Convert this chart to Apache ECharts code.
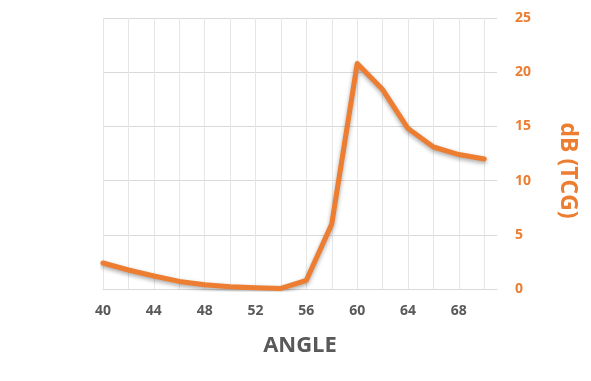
<!DOCTYPE html>
<html>
<head>
<meta charset="utf-8">
<script src="https://cdn.jsdelivr.net/npm/echarts@6/dist/echarts.min.js"></script>
<style>
html,body{margin:0;padding:0;background:#fff;}
#c{width:591px;height:381px;}
</style>
</head>
<body>
<div id="c"></div>
<script>
var angles = [40, 42, 44, 46, 48, 50, 52, 54, 56, 58, 60, 62, 64, 66, 68, 70];
var tcg = [2.4, 1.75, 1.2, 0.7, 0.4, 0.2, 0.12, 0.05, 0.8, 6.0, 20.8, 18.4, 14.8, 13.1, 12.4, 12.0];
var xGridValues = [40, 42, 44, 46, 48, 50, 52, 54, 56, 58, 60, 62, 64, 66, 68, 70];
var xLabelValues = [40, 44, 48, 52, 56, 60, 64, 68];
var xTitle = 'ANGLE';
var yTitle = 'dB (TCG)';

var orange = '#ED7D31';
var grey = '#595959';
var font = '"Open Sans", sans-serif';

var chart = echarts.init(document.getElementById('c'));
chart.setOption({
  animation: false,
  grid: {left: 103, right: 94, top: 18, bottom: 92},
  xAxis: {
    type: 'value', min: 40, max: 71,
    name: xTitle, nameLocation: 'middle', nameGap: 46,
    nameTextStyle: {color: grey, fontSize: 22, fontWeight: 'bold', fontFamily: font},
    axisLine: {show: true, onZero: false, lineStyle: {color: '#D9D9D9', width: 1}},
    axisTick: {show: false, customValues: xGridValues},
    axisLabel: {customValues: xLabelValues, color: grey, fontSize: 14, fontWeight: 'bold', fontFamily: font, margin: 15},
    splitLine: {show: true, lineStyle: {color: '#E6E6E6', width: 1}}
  },
  yAxis: {
    type: 'value', position: 'right', min: 0, max: 25, interval: 5,
    name: yTitle, nameLocation: 'middle', nameGap: 59, nameRotate: -90,
    nameTextStyle: {color: orange, fontSize: 23, fontWeight: 'bold', fontFamily: font, padding: [0, 0, 0, 34]},
    axisLine: {show: false}, axisTick: {show: false},
    axisLabel: {color: orange, fontSize: 14, fontWeight: 'bold', fontFamily: font, margin: 18, align: 'left'},
    splitLine: {show: true, lineStyle: {color: '#D9D9D9', width: 1}}
  },
  series: [{
    type: 'line',
    data: angles.map(function (a, i) { return [a, tcg[i]]; }),
    showSymbol: false,
    lineStyle: {color: orange, width: 5, shadowColor: 'rgba(0,0,0,0.35)', shadowBlur: 4, shadowOffsetY: 2, cap: 'round', join: 'round'}
  }]
});
</script>
</body>
</html>
